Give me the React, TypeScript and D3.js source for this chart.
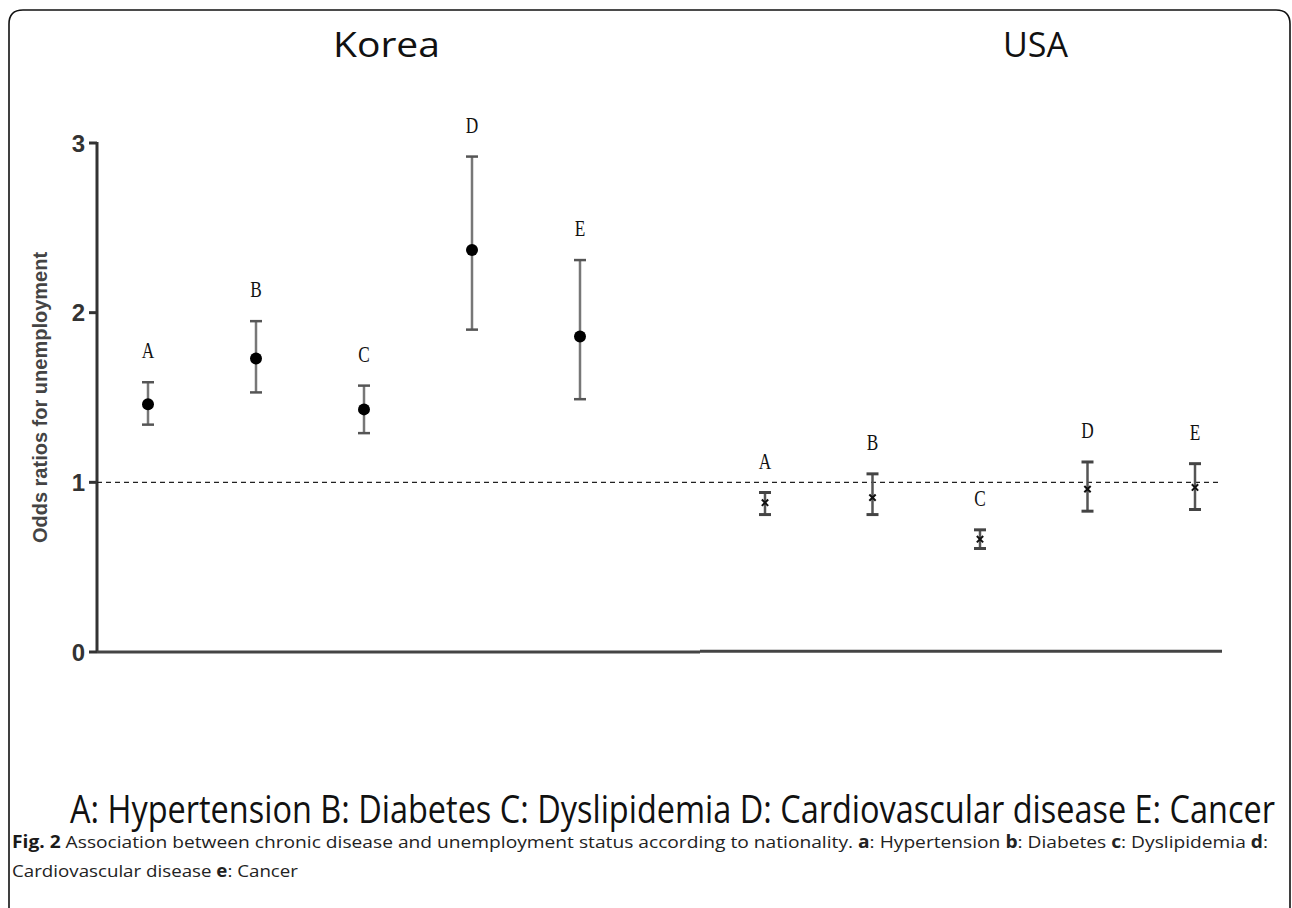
import React from "react";
import * as d3 from "d3";

const categories = ["A", "B", "C", "D", "E"];
const koreaOR = [1.46, 1.73, 1.43, 2.37, 1.86];
const koreaLow = [1.34, 1.53, 1.29, 1.9, 1.49];
const koreaHigh = [1.59, 1.95, 1.57, 2.92, 2.31];
const usaOR = [0.88, 0.91, 0.665, 0.96, 0.97];
const usaLow = [0.81, 0.81, 0.61, 0.83, 0.84];
const usaHigh = [0.94, 1.05, 0.72, 1.12, 1.11];
const yTicks = [0, 1, 2, 3];
const panelTitles = ["Korea", "USA"];
const legendText = "A: Hypertension B: Diabetes C: Dyslipidemia D: Cardiovascular disease E: Cancer";

const W = 1292;
const H = 908;

export default function App() {
  const y = d3.scaleLinear().domain([0, 3]).range([652, 143]);
  const xK = d3.scalePoint<string>().domain(categories).range([148, 580]);
  const xU = d3.scalePoint<string>().domain(categories).range([765, 1195]);
  const xAxis = 97;
  const starPath = d3.symbol().type(d3.symbolTimes).size(28)() as string;

  const labelText = (cx: number, cy: number, t: string, key: string) => (
    <text
      key={key}
      transform={`translate(${cx},${cy}) scale(0.72,1)`}
      textAnchor="middle"
      fontFamily="'Liberation Serif', 'DejaVu Serif', serif"
      fontSize={24}
      fill="#111"
    >
      {t}
    </text>
  );

  return (
    <svg
      width={W}
      height={H}
      style={{ position: "absolute", left: 0, top: 0, background: "#fff" }}
    >
      <rect x={0} y={0} width={W} height={H} fill="#fff" />
      {/* frame */}
      <path
        d={`M9,${H} L9,24 Q9,10 23,10 L1276,10 Q1290,10 1290,24 L1290,${H}`}
        fill="none"
        stroke="#111"
        strokeWidth={1.6}
      />
      {/* panel titles */}
      <text x={333} y={57} fontFamily="'Open Sans', sans-serif" fontSize={34} fill="#111" textLength={107} lengthAdjust="spacingAndGlyphs">
        {panelTitles[0]}
      </text>
      <text x={1003} y={57} fontFamily="'Open Sans', sans-serif" fontSize={34} fill="#111" textLength={65} lengthAdjust="spacingAndGlyphs">
        {panelTitles[1]}
      </text>

      {/* y axis */}
      <line x1={xAxis} x2={xAxis} y1={y(3) - 1} y2={y(0)} stroke="#333" strokeWidth={3} />
      {yTicks.map((t) => (
        <g key={t}>
          <line x1={xAxis - 8} x2={xAxis} y1={y(t)} y2={y(t)} stroke="#333" strokeWidth={3} />
          <text
            x={xAxis - 12}
            y={y(t)}
            dy="0.36em"
            textAnchor="end"
            fontFamily="'Liberation Sans', Arial, sans-serif"
            fontWeight="bold"
            fontSize={24}
            fill="#333"
          >
            {t}
          </text>
        </g>
      ))}
      <text
        transform={`translate(47,${(y(0) + y(3)) / 2}) rotate(-90)`}
        textAnchor="middle"
        fontFamily="'Liberation Sans', Arial, sans-serif"
        fontWeight="bold"
        fontSize={20}
        fill="#444"
      >
        Odds ratios for unemployment
      </text>

      {/* baselines */}
      <line x1={xAxis} x2={700} y1={y(0)} y2={y(0)} stroke="#444" strokeWidth={3} />
      <line x1={700} x2={1222} y1={y(0) - 0.7} y2={y(0) - 0.7} stroke="#444" strokeWidth={3} />

      {/* reference line at OR = 1 */}
      <line
        x1={xAxis}
        x2={1222}
        y1={y(1)}
        y2={y(1)}
        stroke="#222"
        strokeWidth={1.3}
        strokeDasharray="5,4"
      />

      {/* Korea */}
      {categories.map((c, i) => {
        const cx = xK(c) as number;
        return (
          <g key={"k" + c}>
            <line x1={cx} x2={cx} y1={y(koreaLow[i])} y2={y(koreaHigh[i])} stroke="#777" strokeWidth={2.5} />
            <line x1={cx - 6} x2={cx + 6} y1={y(koreaLow[i])} y2={y(koreaLow[i])} stroke="#555" strokeWidth={2.5} />
            <line x1={cx - 6} x2={cx + 6} y1={y(koreaHigh[i])} y2={y(koreaHigh[i])} stroke="#555" strokeWidth={2.5} />
            <circle cx={cx} cy={y(koreaOR[i])} r={6} fill="#000" />
            {labelText(cx, y(koreaHigh[i]) - 24, c, "kl" + c)}
          </g>
        );
      })}

      {/* USA */}
      {categories.map((c, i) => {
        const cx = xU(c) as number;
        return (
          <g key={"u" + c}>
            <line x1={cx} x2={cx} y1={y(usaLow[i])} y2={y(usaHigh[i])} stroke="#555" strokeWidth={2.5} />
            <line x1={cx - 6} x2={cx + 6} y1={y(usaLow[i])} y2={y(usaLow[i])} stroke="#444" strokeWidth={3} />
            <line x1={cx - 6} x2={cx + 6} y1={y(usaHigh[i])} y2={y(usaHigh[i])} stroke="#444" strokeWidth={3} />
            <path d={starPath} transform={`translate(${cx},${y(usaOR[i])})`} fill="none" stroke="#111" strokeWidth={2} />
            {labelText(cx, y(usaHigh[i]) - 24, c, "ul" + c)}
          </g>
        );
      })}

      {/* legend line */}
      <text
        x={70}
        y={823}
        fontFamily="'Open Sans', sans-serif"
        fontSize={38}
        fill="#111"
        textLength={1205}
        lengthAdjust="spacingAndGlyphs"
      >
        {legendText}
      </text>

      {/* figure caption */}
      <text
        x={12}
        y={848}
        fontFamily="'Open Sans', sans-serif"
        fontSize={17}
        fill="#222"
        textLength={1256}
        lengthAdjust="spacingAndGlyphs"
      >
        <tspan fontWeight="bold" fill="#1a1a1a">Fig. 2</tspan>
        <tspan> Association between chronic disease and unemployment status according to nationality. </tspan>
        <tspan fontWeight="bold">a</tspan>
        <tspan>: Hypertension </tspan>
        <tspan fontWeight="bold">b</tspan>
        <tspan>: Diabetes </tspan>
        <tspan fontWeight="bold">c</tspan>
        <tspan>: Dyslipidemia </tspan>
        <tspan fontWeight="bold">d</tspan>
        <tspan>:</tspan>
      </text>
      <text
        x={12}
        y={877}
        fontFamily="'Open Sans', sans-serif"
        fontSize={17}
        fill="#222"
        textLength={286}
        lengthAdjust="spacingAndGlyphs"
      >
        <tspan>Cardiovascular disease </tspan>
        <tspan fontWeight="bold">e</tspan>
        <tspan>: Cancer</tspan>
      </text>
    </svg>
  );
}
